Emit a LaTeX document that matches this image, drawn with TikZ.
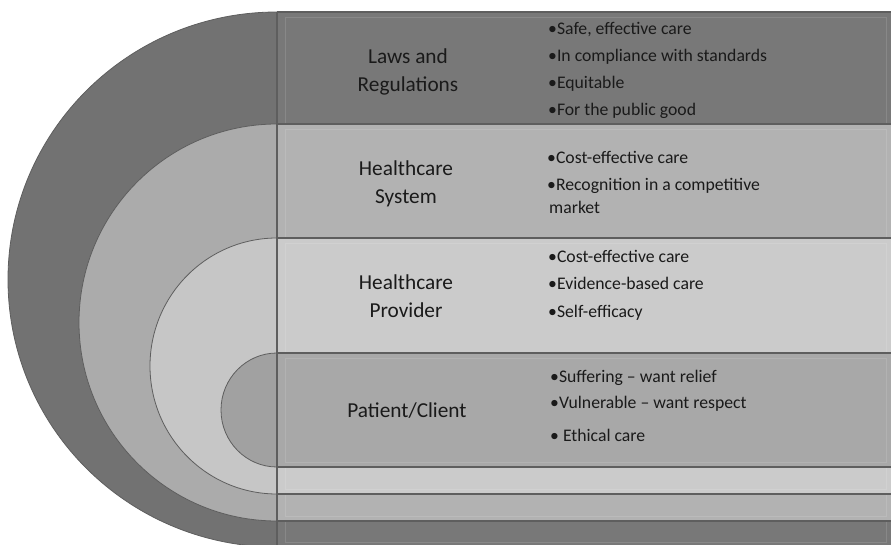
\documentclass[tikz,border=0pt]{standalone}
\usepackage{fontspec}
\setmainfont{Carlito}
\usepackage{tikz}

\definecolor{ringA}{HTML}{727272}
\definecolor{bandA}{HTML}{787878}
\definecolor{ringB}{HTML}{ABABAB}
\definecolor{bandB}{HTML}{B2B2B2}
\definecolor{ringC}{HTML}{C6C6C6}
\definecolor{bandC}{HTML}{CBCBCB}
\definecolor{ringD}{HTML}{A1A1A1}
\definecolor{bandD}{HTML}{A8A8A8}
\definecolor{edge}{HTML}{5E5E5E}
\definecolor{ink}{HTML}{1A1A1A}

\begin{document}
\begin{tikzpicture}[x=1pt,y=-1pt,
	rim/.style={draw=edge, line width=1.2pt},
	title/.style={anchor=base, align=center, inner sep=0pt, text=ink, font=\fontsize{21.3}{28}\selectfont},
	item/.style={anchor=base west, inner sep=0pt, text=ink, font=\fontsize{17.7}{23}\selectfont}]

	\useasboundingbox (0,0) rectangle (891,545);
	\clip (0,0) rectangle (891,545);

	% Draw rings, outside in
	\foreach \top/\bot/\rx/\ring/\band in {12/547/269/ringA/bandA, 124/521/198/ringB/bandB, 238/494/127/ringC/bandC, 353/467/56/ringD/bandD}{
		\pgfmathsetmacro\ry{(\bot-\top)/2}
		\fill[\band] (277,\top) rectangle (891,\bot);
		\draw[white, opacity=0.12] (285,\top+5) rectangle (886,\bot-5);
		\fill[\ring] (277,\top) arc[start angle=270, end angle=90, x radius=\rx, y radius=\ry] -- cycle;
		\draw[edge, line width=0.8pt] (277,\top) arc[start angle=270, end angle=90, x radius=\rx, y radius=\ry];
		\draw[rim] (277,\top) -- (891,\top) (277,\bot) -- (891,\bot);
	}
	\draw[rim] (277,12) -- (277,545);

	% Labels (base = last line)
	\node[title] (laws) at (408,92) {Laws and\\Regulations};
	\node[title] (system) at (406,204) {Healthcare\\System};
	\node[title] (provider) at (406,317) {Healthcare\\Provider};
	\node[title] (patient) at (407,417) {Patient/Client};

	% Bullets
	\foreach \txt [count=\i] in {{•Safe, effective care}, •In compliance with standards, •Equitable, •For the public good}
		\node[item] (laws-\i) at (548,35+26.7*\i-26.7) {\txt};
	\node[item] (system-1) at (547,164) {•Cost-effective care};
	\node[item] (system-2) at (547,191) {•Recognition in a competitive};
	\node[item] (system-3) at (549,214) {market};
	\foreach \txt [count=\i] in {•Cost-effective care, •Evidence-based care, •Self-efficacy}
		\node[item] (provider-\i) at (548,263+27*\i-27) {\txt};
	\node[item] (patient-1) at (550,382) {•Suffering – want relief};
	\node[item] (patient-2) at (550,408) {•Vulnerable – want respect};
	\node[item] (patient-3) at (550,441) {• Ethical care};

\end{tikzpicture}
\end{document}
